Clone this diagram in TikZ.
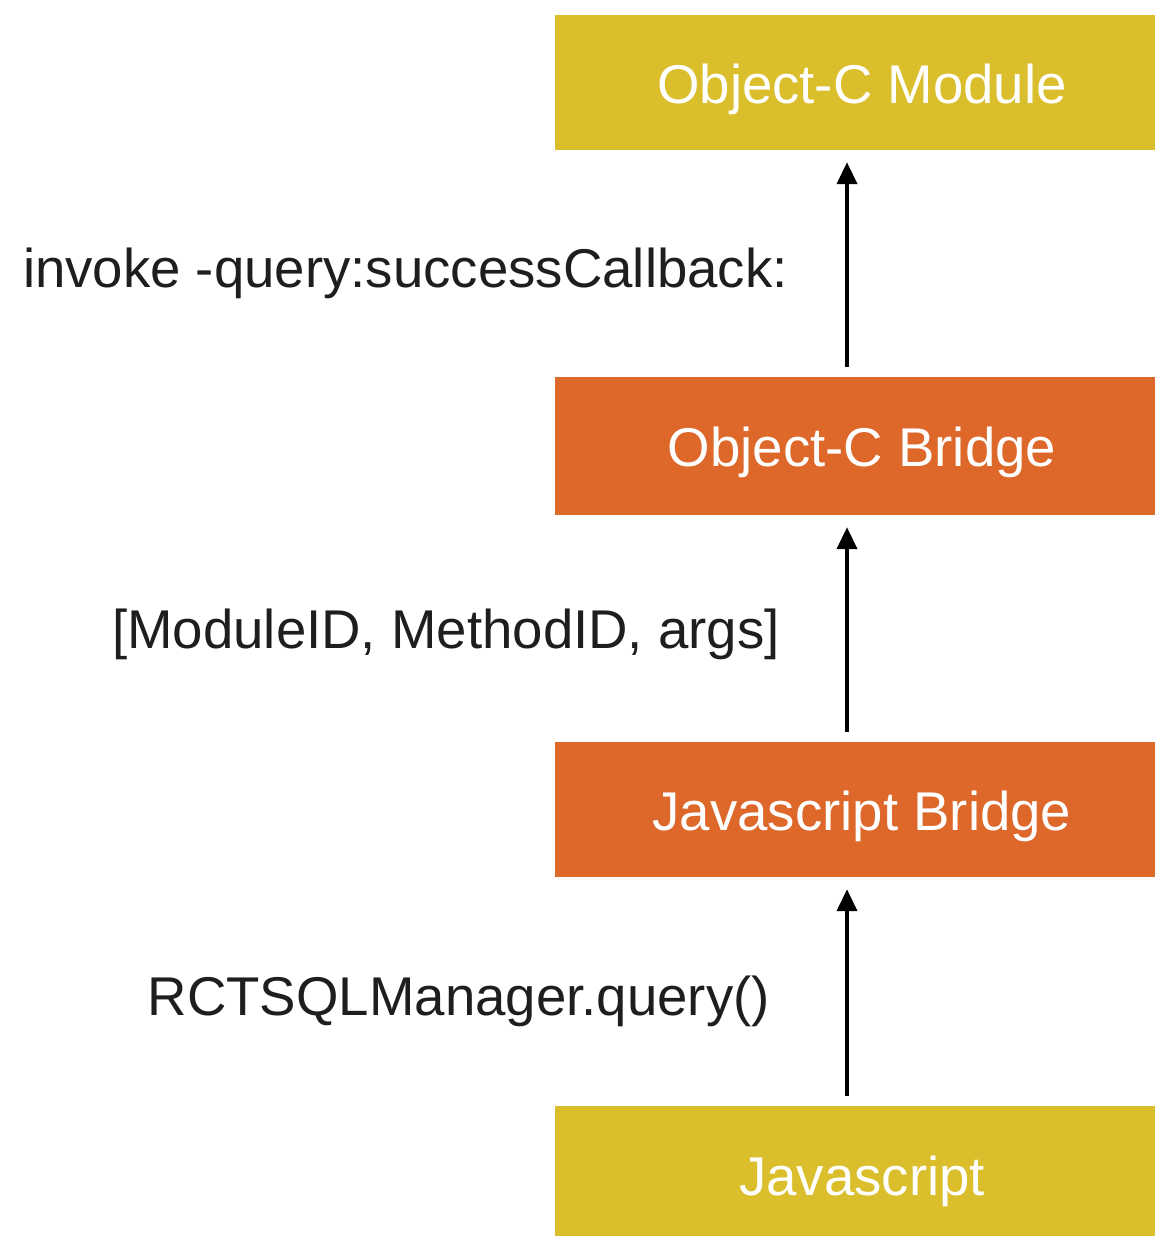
\documentclass[tikz,border=0pt]{standalone}
\usepackage{fontspec}
\setmainfont{Liberation Sans}
\usetikzlibrary{arrows.meta}
\definecolor{mustard}{HTML}{DABE2B}
\definecolor{rust}{HTML}{DE672A}
\definecolor{ink}{HTML}{1E1E1E}
\tikzset{
  layer/.style={inner sep=0pt, minimum width=614pt, text=white, text height=41pt, text depth=0pt,
    font=\fontsize{54.6}{62}\selectfont},
  call/.style={anchor=base east, inner sep=0pt, text=ink, font=\fontsize{54.6}{62}\selectfont},
  up/.style={line width=4pt, -{Triangle[length=22pt,width=20pt]}, shorten <=10pt, shorten >=12pt}
}
\begin{document}
\begin{tikzpicture}[x=1pt,y=-1pt]
        \useasboundingbox[fill=white] (0,0) rectangle (1154,1236);
        \draw (862,82.5)  node[layer,fill=mustard,minimum height=135pt] (mod) {Object-C Module};
        \draw (862,446)   node[layer,fill=rust,minimum height=138pt] (objb) {Object-C Bridge};
        \draw (862,809.5) node[layer,fill=rust,minimum height=135pt] (jsb) {Javascript Bridge};
        \draw (862,1175)  node[layer,fill=mustard,minimum height=138pt] (js) {Javascript};
        \node[call] (invoke) at (788,287) {invoke -query:successCallback:};
        \node[call] (msg) at (780,648) {[ModuleID, MethodID, args]};
        \node[call] (query) at (770,1015) {RCTSQLManager.query()};
        \draw[up] ([xshift=-15pt]js.north) -- ([xshift=-15pt]jsb.south);
        \draw[up] ([xshift=-15pt]jsb.north) -- ([xshift=-15pt]objb.south);
        \draw[up] ([xshift=-15pt]objb.north) -- ([xshift=-15pt]mod.south);
\end{tikzpicture}
\end{document}
